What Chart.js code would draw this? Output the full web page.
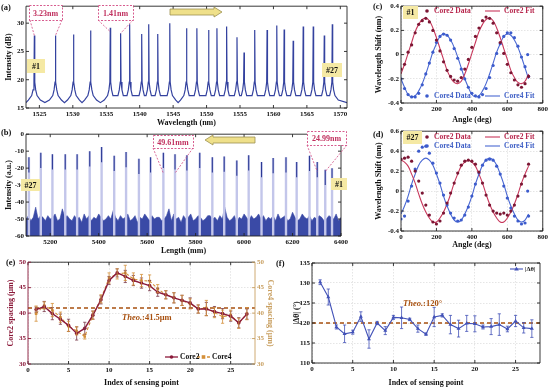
<!DOCTYPE html>
<html><head><meta charset="utf-8">
<script src="https://cdn.jsdelivr.net/npm/chart.js@4/dist/chart.umd.min.js"></script>
<style>
body{margin:0;background:#fff;width:550px;height:388px;overflow:hidden;position:relative}
canvas{position:absolute}
</style></head><body>
<canvas id="cA" width="350" height="128" style="left:0;top:0"></canvas>
<canvas id="cB" width="350" height="128" style="left:0;top:128px"></canvas>
<canvas id="cC" width="200" height="125" style="left:350px;top:0"></canvas>
<canvas id="cD" width="200" height="125" style="left:350px;top:125px"></canvas>
<canvas id="cE" width="290" height="132" style="left:0;top:256px"></canvas>
<canvas id="cF" width="280" height="132" style="left:270px;top:256px"></canvas>
<script>
// ---------- DATA ----------
// (a) FBG reflection spectrum: peak wavelengths (nm) and peak levels (dB)
const aPeakWl = [1524.25,1527.4,1530.1,1532.65,1535.6,1537.15,1538.5,1540.3,1541.35,1542.7,1544.5,1547.0,1548.55,1550.3,1551.55,1553.0,1554.55,1555.6,1557.2,1559.05,1560.5,1561.6,1562.95,1564.45,1565.95,1567.6,1568.8];
const aPeakDb = [27.8,27.8,28.0,28.7,29.2,28.2,29.8,28.1,29.8,28.1,30.0,29.1,29.1,28.8,29.1,29.4,27.5,24.8,28.8,28.8,29.6,28.9,26.9,29.4,29.4,27.8,29.8];
const aBase = 15.95;
const aShapeOff = [-0.9,-0.4,-0.2,-0.06,0,0.06,0.2,0.4,0.9];
const aShapeLvl = [16.4,17.2,18.2,19.6,null,19.6,18.2,17.2,16.4];

// (b) OFDR trace: peak positions (mm), peak tops, noise floor every 10 mm from 5100
const bPeakMm = [5112,5161,5209,5262,5311,5363,5412,5464,5513,5566,5614,5667,5715,5764,5817,5869,5918,5970,6019,6072,6120,6173,6217,6270,6302,6335,6363];
const bPeakTop = [-13.6,-10.9,-11.8,-11.8,-11.8,-10,-7.6,-12.7,-10.5,-14.5,-13.6,-10.9,-11.8,-12.4,-10.9,-13.6,-13.1,-15.5,-12.4,-16.4,-14,-13.6,-16.4,-12.7,-16.4,-21,-20];
const bNoiseStart = 5100, bNoiseStep = 10;
const bNoise = [-50,-48,-51,-49,-43,-50,-48,-49,-51,-48,
 -50,-49,-47,-51,-50,-44,-49,-48,-50,-51,
 -48,-50,-49,-52,-47,-50,-48,-51,-49,-50,
 -47,-49,-51,-50,-48,-50,-45,-49,-51,-48,
 -50,-49,-47,-51,-50,-48,-52,-49,-50,-47,
 -49,-51,-48,-50,-49,-49,-51,-50,-48,-44,
 -51,-47,-50,-49,-52,-48,-50,-49,-47,-51,
 -50,-48,-49,-51,-50,-48,-48,-50,-49,-51,
 -48,-50,-43,-49,-51,-50,-48,-52,-49,-50,
 -47,-49,-51,-48,-50,-49,-47,-50,-48,-51,
 -49,-50,-48,-51,-47,-50,-49,-48,-51,-50,
 -46,-49,-51,-50,-47,-49,-50,-48,-51,-49,
 -50,-48,-49,-51,-50,-48,-49,-50,-47,-51,
 -49];

// (c)/(d) wavelength shift vs rotation angle
const angles = [0,20,40,60,80,100,120,140,160,180,200,220,240,260,280,300,320,340,360,380,400,420,440,460,480,500,520,540,560,580,600,620,640,660,680,700,720];
const c1Core2 = [-0.12,-0.08,0.02,0.08,0.18,0.25,0.28,0.30,0.27,0.20,0.12,0.03,-0.06,-0.13,-0.18,-0.21,-0.22,-0.19,-0.12,-0.04,0.06,0.15,0.22,0.28,0.31,0.30,0.26,0.18,0.10,0.01,-0.08,-0.15,-0.21,-0.25,-0.27,-0.24,-0.18];
const c1Core2Fit = [-0.16,-0.08,0.01,0.10,0.19,0.25,0.29,0.30,0.28,0.22,0.14,0.05,-0.04,-0.13,-0.19,-0.23,-0.24,-0.22,-0.16,-0.08,0.01,0.10,0.19,0.25,0.29,0.30,0.28,0.22,0.14,0.05,-0.04,-0.13,-0.19,-0.23,-0.24,-0.22,-0.16];
const c1Core4 = [-0.20,-0.28,-0.33,-0.35,-0.35,-0.32,-0.25,-0.16,-0.07,0.02,0.10,0.15,0.17,0.16,0.12,0.05,-0.03,-0.12,-0.20,-0.27,-0.32,-0.34,-0.35,-0.33,-0.28,-0.19,-0.09,0.01,0.09,0.15,0.18,0.18,0.14,0.07,-0.02,-0.10,-0.18];
const c1Core4Fit = [-0.20,-0.27,-0.33,-0.35,-0.34,-0.30,-0.24,-0.16,-0.07,0.02,0.09,0.15,0.17,0.16,0.12,0.06,-0.02,-0.11,-0.20,-0.27,-0.33,-0.35,-0.34,-0.30,-0.24,-0.16,-0.07,0.02,0.09,0.15,0.17,0.16,0.12,0.06,-0.02,-0.11,-0.20];
const c1Core4OutAngle = [715], c1Core4OutVal = [0.0];
const c27Core2 = [0.32,0.33,0.34,0.30,0.20,0.10,-0.02,-0.14,-0.24,-0.31,-0.33,-0.30,-0.22,-0.12,-0.02,0.08,0.18,0.26,0.30,0.31,0.30,0.27,0.19,0.08,-0.04,-0.14,-0.20,-0.22,-0.23,-0.22,-0.24,-0.20,-0.14,-0.05,0.07,0.15,0.27];
const c27Core2Fit = [0.31,0.29,0.25,0.17,0.08,-0.03,-0.13,-0.21,-0.27,-0.31,-0.31,-0.27,-0.21,-0.13,-0.03,0.08,0.17,0.25,0.29,0.31,0.29,0.25,0.17,0.08,-0.03,-0.13,-0.21,-0.27,-0.31,-0.31,-0.27,-0.21,-0.13,-0.03,0.08,0.17,0.25];
const c27Core4 = [-0.28,-0.25,-0.10,0.05,0.22,0.40,0.44,0.45,0.38,0.28,0.18,0.08,-0.04,-0.14,-0.22,-0.27,-0.30,-0.29,-0.24,-0.16,-0.05,0.07,0.18,0.26,0.31,0.32,0.31,0.25,0.17,0.05,-0.07,-0.17,-0.25,-0.30,-0.33,-0.32,-0.25];
const c27Core4Fit = [-0.23,-0.15,-0.05,0.07,0.17,0.26,0.31,0.33,0.31,0.26,0.17,0.07,-0.05,-0.15,-0.23,-0.29,-0.31,-0.29,-0.23,-0.15,-0.05,0.07,0.17,0.26,0.31,0.33,0.31,0.26,0.17,0.07,-0.05,-0.15,-0.23,-0.29,-0.31,-0.29,-0.23];
const c27Core4OutAngle = [715], c27Core4OutVal = [0.0];

// (e) core spacing per sensing point
const sensIdx = [1,2,3,4,5,6,7,8,9,10,11,12,13,14,15,16,17,18,19,20,21,22,23,24,25,26,27];
const eCore2 = [40.7,41.3,39.9,38.8,37.6,36.0,37.0,39.6,42.6,46.4,47.9,47.2,46.4,45.9,45.4,44.1,43.6,43.0,42.5,42.0,40.8,40.8,40.3,39.9,39.4,38.1,39.8];
const eCore2Err = [0.5,1.0,1.2,1.0,1.2,1.3,1.2,0.8,0.8,0.8,0.8,1.2,1.0,1.0,1.0,0.8,0.8,1.0,1.0,1.0,0.8,1.3,1.0,1.0,1.0,1.0,1.0];
const eCore4 = [39.9,41.5,40.6,39.2,37.4,36.5,35.4,39.6,42.8,46.9,47.7,47.9,46.7,46.4,46.3,44.8,43.6,43.0,42.5,41.8,40.8,41.0,40.1,39.3,39.6,38.0,39.9];
const eCore4Err = [1.5,0.7,1.3,1.0,1.0,0.8,0.5,0.8,0.8,1.0,1.0,1.5,1.2,1.2,1.2,0.8,0.8,1.0,1.0,1.0,0.8,1.5,1.0,1.3,1.0,1.0,1.2];
const eTheo = 41.0;

// (f) angle difference per sensing point
const fDtheta = [130.2,126.5,119.0,117.3,117.7,121.6,116.0,120.0,118.1,121.4,121.3,120.9,118.6,117.2,121.5,121.9,119.6,118.6,119.9,119.8,119.0,119.1,119.6,118.5,120.5,118.8,118.6];
const fErr = [0.6,2.0,0.5,2.2,0.5,1.2,2.3,0.4,1.0,0.5,2.7,0.3,0.9,0.3,2.4,0.4,2.3,2.1,2.0,2.0,0.5,2.0,2.7,0.7,1.4,1.3,2.2];
const fTheo = 120;

// ---------- STYLE ----------
const FONT = "'Liberation Serif','Times New Roman',serif";
Chart.defaults.font.family = FONT;
Chart.defaults.font.weight = 'bold';
Chart.defaults.font.size = 7;
Chart.defaults.color = '#111';
Chart.defaults.animation = false;
Chart.defaults.responsive = false;
Chart.defaults.plugins.legend.display = false;
Chart.defaults.plugins.tooltip.enabled = false;

const RED_DOT='#7c1634', RED_FIT='#c8385c', RED_TXT='#b8284e';
const BLUE_DOT='#3c5bcc', BLUE_FIT='#4a68d2', BLUE_TXT='#3f5fc6';
const MAROON='#8b1a3a', TAN='#c9a062', ORANGE='#d4903a', THEO='#a8500f';

const BOXCFG = {cE:{left:MAROON,right:TAN}};
const boxTicks = {id:'boxTicks', afterDraw(chart){
  const {ctx, chartArea:a} = chart; const cfg = BOXCFG[chart.canvas.id]||{}; const L=3;
  ctx.save(); ctx.setLineDash([]); ctx.lineWidth=0.9;
  const xs=chart.scales.x, ys=chart.scales.y, y2=chart.scales.y2;
  ctx.strokeStyle='#222'; ctx.beginPath();
  xs.ticks.forEach((t,i)=>{const p=xs.getPixelForTick(i); ctx.moveTo(p,a.bottom); ctx.lineTo(p,a.bottom-L); ctx.moveTo(p,a.top); ctx.lineTo(p,a.top+L);});
  ctx.moveTo(a.left,a.top); ctx.lineTo(a.right,a.top); ctx.moveTo(a.left,a.bottom); ctx.lineTo(a.right,a.bottom);
  ctx.stroke();
  ctx.strokeStyle=cfg.left||'#222'; ctx.beginPath(); ctx.moveTo(a.left,a.top); ctx.lineTo(a.left,a.bottom);
  ys.ticks.forEach((t,i)=>{const p=ys.getPixelForTick(i); ctx.moveTo(a.left,p); ctx.lineTo(a.left+L,p); if(!y2){ctx.moveTo(a.right,p); ctx.lineTo(a.right-L,p);}});
  ctx.stroke();
  ctx.strokeStyle=cfg.right||'#222'; ctx.beginPath(); ctx.moveTo(a.right,a.top); ctx.lineTo(a.right,a.bottom);
  if(y2) y2.ticks.forEach((t,i)=>{const p=y2.getPixelForTick(i); ctx.moveTo(a.right,p); ctx.lineTo(a.right-L,p);});
  ctx.stroke(); ctx.restore();
}};
const errBars = {id:'errBars', afterDatasetsDraw(chart){
  const ctx=chart.ctx;
  chart.data.datasets.forEach((ds,i)=>{
    if(!ds.errors) return;
    const meta=chart.getDatasetMeta(i); const ys=chart.scales[meta.yAxisID];
    ctx.save(); ctx.strokeStyle=ds.errColor||ds.borderColor; ctx.lineWidth=0.8; ctx.setLineDash([]);
    ctx.beginPath();
    meta.data.forEach((pt,j)=>{const v=ds.data[j].y, e=ds.errors[j]; const y1=ys.getPixelForValue(v+e), y2=ys.getPixelForValue(v-e), x=pt.x;
      ctx.moveTo(x,y1); ctx.lineTo(x,y2); ctx.moveTo(x-1.6,y1); ctx.lineTo(x+1.6,y1); ctx.moveTo(x-1.6,y2); ctx.lineTo(x+1.6,y2);});
    ctx.stroke(); ctx.restore();
  });
}};
Chart.register(boxTicks, errBars);

function txt(ctx,s,x,y,o={}){ctx.save();ctx.font=`${o.italic?'italic ':''}bold ${o.size||8}px ${FONT}`;ctx.fillStyle=o.color||'#111';ctx.textAlign=o.align||'left';ctx.textBaseline='middle';ctx.fillText(s,x,y);const w=ctx.measureText(s).width;ctx.restore();return w;}
function tag(ctx,s,x,y,w,h){ctx.save();ctx.fillStyle='#f5e9a4';ctx.fillRect(x,y,w,h);ctx.restore();txt(ctx,s,x+w/2,y+h/2+0.5,{align:'center',size:8});}
function dline(ctx,x1,y1,x2,y2){ctx.save();ctx.strokeStyle='#d24a82';ctx.lineWidth=0.8;ctx.setLineDash([2,1.5]);ctx.beginPath();ctx.moveTo(x1,y1);ctx.lineTo(x2,y2);ctx.stroke();ctx.restore();}
function dashBox(ctx,x,y,w,h,s){ctx.save();ctx.fillStyle='#fff';ctx.fillRect(x,y,w,h);ctx.strokeStyle='#d24a82';ctx.lineWidth=0.9;ctx.setLineDash([2,1.5]);ctx.strokeRect(x+.5,y+.5,w,h);ctx.restore();txt(ctx,s,x+w/2,y+h/2+1,{align:'center',size:8,color:'#c0305e'});}
function arrow(ctx,x1,x2,y){const d=Math.sign(x2-x1),bx=x2-d*8;ctx.save();ctx.beginPath();ctx.moveTo(x1,y-3);ctx.lineTo(bx,y-3);ctx.lineTo(bx,y-5);ctx.lineTo(x2,y);ctx.lineTo(bx,y+5);ctx.lineTo(bx,y+3);ctx.lineTo(x1,y+3);ctx.closePath();ctx.fillStyle='#efe08a';ctx.fill();ctx.strokeStyle='#9c9050';ctx.lineWidth=0.8;ctx.stroke();ctx.restore();}

function xAxis(min,max,step,title,h,grid,extra){
  return Object.assign({type:'linear',min,max,offset:false,
    ticks:{stepSize:step,includeBounds:false,padding:2,maxRotation:0,autoSkip:false,callback:v=>String(v)},
    grid:grid?{display:true,color:'#d4d4d4',lineWidth:0.6,drawTicks:false}:{display:false,drawTicks:false},
    border:{display:false,dash:[1.5,1.5]},
    title:{display:true,text:title,padding:{top:1,bottom:0},font:{size:8,weight:'bold'}},
    afterFit:s=>{s.height=h;}}, extra||{});
}
function yAxis(min,max,step,title,w,grid,extra){
  return Object.assign({type:'linear',min,max,
    ticks:{stepSize:step,includeBounds:false,padding:2,callback:v=>String(Math.round(v*10)/10)},
    grid:grid?{display:true,color:'#d4d4d4',lineWidth:0.6,drawTicks:false}:{display:false,drawTicks:false},
    border:{display:false,dash:[1.5,1.5]},
    title:{display:true,text:title,padding:{top:0,bottom:0},font:{size:8,weight:'bold'}},
    afterFit:s=>{s.width=w;}}, extra||{});
}
const xy = (xs,ys)=>xs.map((x,i)=>({x,y:ys[i]}));

// ---------- (a) ----------
const aPts=[{x:1523,y:aBase}];
aPeakWl.forEach((c,i)=>{
  const gL=i>0?c-aPeakWl[i-1]:3, gR=i<aPeakWl.length-1?aPeakWl[i+1]-c:3;
  aShapeOff.forEach((o,k)=>{const lim=(o<0?gL:gR)/2; if(Math.abs(o)>=lim*0.95) return;
    aPts.push({x:c+o,y:aShapeLvl[k]===null?aPeakDb[i]:aShapeLvl[k]});});
  if(i<aPeakWl.length-1 && gR>1.9) aPts.push({x:c+gR/2,y:aBase});
});
aPts.push({x:1571,y:aBase});
new Chart(document.getElementById('cA'),{type:'line',
  data:{datasets:[{data:aPts,borderColor:'#34429f',borderWidth:1.2,pointRadius:0,tension:0}]},
  options:{devicePixelRatio:1,layout:{padding:{left:4,top:3,right:3,bottom:0}},
    scales:{x:xAxis(1523,1571,5,'Wavelength (nm)',20,false),y:yAxis(15,33,5,'Intensity (dB)',22,false)}},
  plugins:[{id:'decoA',afterDraw(ch){const c=ch.ctx,xs=ch.scales.x,ys=ch.scales.y;
    txt(c,'(a)',1,8,{size:8.5});
    const px=i=>xs.getPixelForValue(aPeakWl[i]), py=i=>ys.getPixelForValue(aPeakDb[i]);
    dline(c,30,20,px(0),py(0)); dline(c,62,20,px(1),py(1));
    dline(c,98,20,px(4),py(4)+4); dline(c,133,20,px(5),py(5));
    dashBox(c,29,5,33,15,'3.23nm'); dashBox(c,98,5,35,15,'1.41nm');
    arrow(c,170,222,12);
    tag(c,'#1',27,59,18,14); tag(c,'#27',322,63,20,14);
  }}]
});

// ---------- (b) ----------
const bNoisePts=bNoise.map((v,i)=>({x:bNoiseStart+i*bNoiseStep,y:v}));
const bLight=[], bDark=[];
bPeakMm.forEach((m,i)=>{bLight.push({x:m,y:-60},{x:m,y:bPeakTop[i]},{x:m,y:null}); bDark.push({x:m,y:bPeakTop[i]-9},{x:m,y:bPeakTop[i]},{x:m,y:null});});
new Chart(document.getElementById('cB'),{type:'line',
  data:{datasets:[
    {data:bDark,borderColor:'#2c3a95',borderWidth:1.1,pointRadius:0,spanGaps:false},
    {data:bLight,borderColor:'#c3c6ea',borderWidth:2.4,pointRadius:0,spanGaps:false},
    {data:bNoisePts,borderColor:'#3a4aa6',backgroundColor:'#3a4aa6',borderWidth:0.6,pointRadius:0,fill:'start'}]},
  options:{devicePixelRatio:1,layout:{padding:{left:4,top:3,right:3,bottom:0}},
    scales:{x:xAxis(5100,6400,200,'Length (mm)',20,false),y:yAxis(-60,0,10,'Intensity (a.u.)',22,false)}},
  plugins:[{id:'decoB',afterDraw(ch){const c=ch.ctx,xs=ch.scales.x,ys=ch.scales.y;
    txt(c,'(b)',1,5,{size:8.5});
    const px=i=>xs.getPixelForValue(bPeakMm[i]);
    dline(c,153,20,px(11),ys.getPixelForValue(-23)); dline(c,193,20,px(12),ys.getPixelForValue(-23));
    dline(c,307,17,px(24),ys.getPixelForValue(-22)); dline(c,347,17,px(25),ys.getPixelForValue(-22));
    dashBox(c,153,7,40,13,'49.61mm'); dashBox(c,307,3,39,14,'24.99nm');
    arrow(c,255,205,12);
    tag(c,'#27',21,51,19,12); tag(c,'#1',331,50,16,12);
  }}]
});

// ---------- (c) & (d) ----------
function angleChart(id,ymin,ymax,d2,f2,d4,f4,oA,oV,deco){
  return new Chart(document.getElementById(id),{type:'line',
    data:{datasets:[
      {data:xy(angles,d2),showLine:false,pointRadius:1.6,pointBackgroundColor:RED_DOT,pointBorderWidth:0},
      {data:xy(angles,d4).concat(xy(oA,oV)),showLine:false,pointRadius:1.6,pointBackgroundColor:BLUE_DOT,pointBorderWidth:0},
      {data:xy(angles,f2),borderColor:RED_FIT,borderWidth:1.1,pointRadius:0,tension:0.4},
      {data:xy(angles,f4),borderColor:BLUE_FIT,borderWidth:1.1,pointRadius:0,tension:0.4}]},
    options:{devicePixelRatio:1,layout:{padding:{left:24,top:5,right:7,bottom:0}},
      scales:{x:xAxis(0,800,200,'Angle (deg)',id==='cC'?22:19,true),y:yAxis(ymin,ymax,0.2,'Wavelength Shift (nm)',27,true)}},
    plugins:[{id:'deco'+id,afterDraw:deco}]});
}
function legRow(c,y,dotCol,txtCol,fitCol,a,b,x0){
  c.save();c.fillStyle=dotCol;c.beginPath();c.arc(x0,y,1.8,0,Math.PI*2);c.fill();c.restore();
  txt(c,a,x0+7,y,{color:txtCol,size:7.5});
  c.save();c.strokeStyle=fitCol;c.lineWidth=1.1;c.beginPath();c.moveTo(x0+58,y);c.lineTo(x0+73,y);c.stroke();c.restore();
  txt(c,b,x0+77,y,{color:txtCol,size:7.5});
}
angleChart('cC',-0.4,0.4,c1Core2,c1Core2Fit,c1Core4,c1Core4Fit,c1Core4OutAngle,c1Core4OutVal,function(ch){const c=ch.ctx;
  txt(c,'(c)',23,7,{size:8.5}); tag(c,'#1',53,6,15,13);
  legRow(c,11,RED_DOT,RED_TXT,RED_FIT,'Core2 Data','Core2 Fit',77);
  legRow(c,96,BLUE_DOT,BLUE_TXT,BLUE_FIT,'Core4 Data','Core4 Fit',77);
});
angleChart('cD',-0.4,0.6,c27Core2,c27Core2Fit,c27Core4,c27Core4Fit,c27Core4OutAngle,c27Core4OutVal,function(ch){const c=ch.ctx;
  txt(c,'(d)',23,10,{size:8.5}); tag(c,'#27',53,6,19,13);
  legRow(c,12,RED_DOT,RED_TXT,RED_FIT,'Core2 Data','Core2 Fit',77);
  legRow(c,21,BLUE_DOT,BLUE_TXT,BLUE_FIT,'Core4 Data','Core4 Fit',77);
});

// ---------- (e) ----------
new Chart(document.getElementById('cE'),{type:'line',
  data:{datasets:[
    {data:xy(sensIdx,eCore2),errors:eCore2Err,errColor:'#7a3a4a',borderColor:MAROON,backgroundColor:MAROON,borderWidth:1.4,pointRadius:1.8,pointBorderWidth:0,pointBackgroundColor:MAROON,yAxisID:'y'},
    {data:xy(sensIdx,eCore4),errors:eCore4Err,errColor:ORANGE,borderColor:ORANGE,borderWidth:1.1,borderDash:[3,2],pointStyle:'rect',pointRadius:1.8,pointBorderWidth:0,pointBackgroundColor:ORANGE,yAxisID:'y2'},
    {data:[{x:0,y:eTheo},{x:28,y:eTheo}],borderColor:THEO,borderWidth:1.3,borderDash:[4,3],pointRadius:0,yAxisID:'y'}]},
  options:{devicePixelRatio:1,layout:{padding:{left:6,top:6,right:15,bottom:0}},
    scales:{x:xAxis(0,28,5,'Index of sensing point',24,true),
      y:yAxis(30,50,5,'Core2 spacing (μm)',22,true,{}),
      y2:yAxis(30,50,5,'Core4 spacing (μm)',20,false,{position:'right'})}},
  plugins:[{id:'decoE',afterDraw(ch){const c=ch.ctx,a=ch.chartArea;
    txt(c,'(e)',6,7,{size:8.5});
    const w=txt(c,'Theo.',122,62,{italic:true,color:THEO,size:8.5}); txt(c,':41.5μm',122+w,62,{color:THEO,size:8.5});
    const y=a.bottom-7;
    c.save();c.strokeStyle=MAROON;c.lineWidth=1.3;c.beginPath();c.moveTo(165,y);c.lineTo(178,y);c.stroke();
    c.fillStyle=MAROON;c.beginPath();c.arc(171.5,y,1.8,0,7);c.fill();
    c.strokeStyle=ORANGE;c.setLineDash([3,2]);c.beginPath();c.moveTo(197,y);c.lineTo(210,y);c.stroke();
    c.fillStyle=ORANGE;c.fillRect(201.7,y-1.8,3.6,3.6);c.restore();
    txt(c,'Core2',180,y,{size:7.5}); txt(c,'Core4',212,y,{size:7.5});
  }}]
});
(function(){ // colour the twin y axes of (e)
  const ch=Chart.getChart('cE'); const s=ch.options.scales;
  s.y.ticks.color=MAROON; s.y.title.color=MAROON; s.y2.ticks.color=TAN; s.y2.title.color=TAN; ch.update();
})();

// ---------- (f) ----------
new Chart(document.getElementById('cF'),{type:'line',
  data:{datasets:[
    {data:xy(sensIdx,fDtheta),errors:fErr,borderColor:'#4252b8',borderWidth:1.1,pointStyle:'triangle',pointRadius:2.3,pointBorderWidth:0,pointBackgroundColor:'#4252b8'},
    {data:[{x:0,y:fTheo},{x:28,y:fTheo}],borderColor:THEO,borderWidth:1.3,borderDash:[4,3],pointRadius:0}]},
  options:{devicePixelRatio:1,layout:{padding:{left:22,top:7,right:10,bottom:0}},
    scales:{x:xAxis(0,28,5,'Index of sensing point',25,true),y:yAxis(110,135,5,'|Δθ| (°)',20,true)}},
  plugins:[{id:'decoF',afterDraw(ch){const c=ch.ctx,a=ch.chartArea;
    txt(c,'(f)',6,8,{size:8.5});
    const w=txt(c,'Theo.',133,48,{italic:true,color:THEO,size:8.5}); txt(c,':120°',133+w,48,{color:THEO,size:8.5});
    const y=a.top+6, x0=a.right-30;
    c.save();c.strokeStyle='#4252b8';c.lineWidth=1.1;c.beginPath();c.moveTo(x0,y);c.lineTo(x0+13,y);c.stroke();
    c.fillStyle='#4252b8';c.beginPath();c.moveTo(x0+6.5,y-2.3);c.lineTo(x0+8.8,y+1.6);c.lineTo(x0+4.2,y+1.6);c.closePath();c.fill();c.restore();
    txt(c,'|Δθ|',x0+15,y,{size:6.5});
  }}]
});
</script>
</body></html>
